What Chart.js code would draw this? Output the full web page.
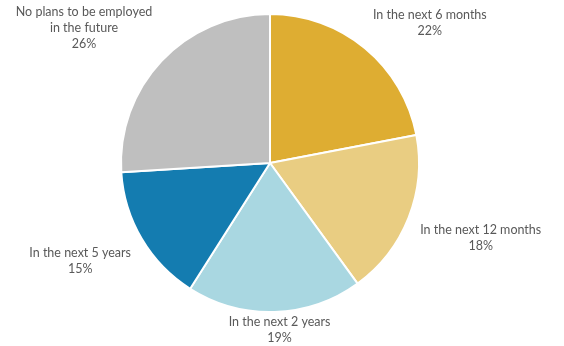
<!DOCTYPE html>
<html>
<head>
<meta charset="utf-8">
<script src="https://cdn.jsdelivr.net/npm/chart.js@4/dist/chart.umd.min.js"></script>
<style>
  html, body { margin: 0; padding: 0; background: #fff; }
  #wrap { width: 564px; height: 346px; position: relative; }
</style>
</head>
<body>
<div id="wrap"><canvas id="pieEmpleo"></canvas></div>
<script>
// categorías y porcentajes
const categorias = [
    ['In the next 6 months'],
    ['In the next 12 months'],
    ['In the next 2 years'],
    ['In the next 5 years'],
    ['No plans to be employed', 'in the future']
];
const porcentajes = [22, 18, 19, 15, 26];
const colores = ['#DEAD32', '#E9CD82', '#A9D7E1', '#147CB0', '#BFBFBF'];

// etiquetas fuera del pastel, la esquina más cercana apunta al centro del arco
const etiquetasFuera = {
    id: 'etiquetasFuera',
    afterDatasetsDraw(chart) {
        const ctx = chart.ctx;
        const meta = chart.getDatasetMeta(0);
        const lineH = 16;
        ctx.save();
        ctx.font = '12.5px Lato';
        ctx.fillStyle = '#595959';
        ctx.textAlign = 'center';
        ctx.textBaseline = 'middle';
        meta.data.forEach((arc, i) => {
            const p = arc.getProps(['x', 'y', 'startAngle', 'endAngle', 'outerRadius'], true);
            const medio = (p.startAngle + p.endAngle) / 2;
            const kx = Math.max(-1, Math.min(1, Math.cos(medio) * 3));
            const ky = Math.max(-1, Math.min(1, Math.sin(medio) * 3));
            // separación menor cuando la etiqueta queda justo abajo
            const r = p.outerRadius + 1 + 11.5 * Math.abs(kx);
            const px = p.x + Math.cos(medio) * r;
            const py = p.y + Math.sin(medio) * r;
            const lineas = categorias[i].concat([porcentajes[i] + '%']);
            const w = Math.max(...lineas.map(l => ctx.measureText(l).width));
            const h = lineas.length * lineH;
            const cx = px + kx * w / 2;
            const cy = py + ky * h / 2;
            lineas.forEach((l, j) => {
                ctx.fillText(l, cx, cy - h / 2 + lineH * (j + 0.5));
            });
        });
        ctx.restore();
    }
};

new Chart(document.getElementById('pieEmpleo'), {
    type: 'pie',
    data: {
        labels: categorias.map(c => c.join(' ')),
        datasets: [{
            data: porcentajes,
            backgroundColor: colores,
            borderColor: '#ffffff',
            borderWidth: 2
        }]
    },
    options: {
        responsive: true,
        maintainAspectRatio: false,
        animation: false,
        layout: { padding: { left: 120, right: 144, top: 13, bottom: 33 } },
        plugins: {
            legend: { display: false },
            tooltip: { enabled: false }
        }
    },
    plugins: [etiquetasFuera]
});
</script>
</body>
</html>
